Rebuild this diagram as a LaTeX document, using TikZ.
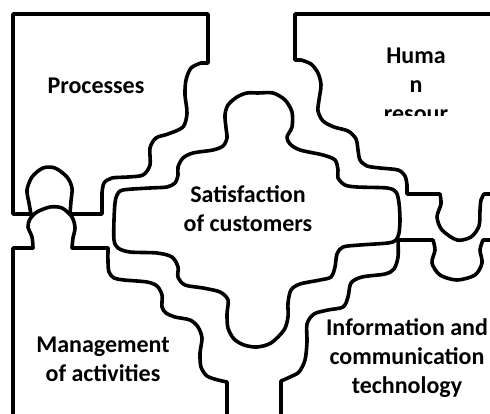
\documentclass[tikz,border=0pt]{standalone}
\usepackage{fontspec}
\setmainfont{Carlito}
\usepackage{tikz}

\begin{document}
\begin{tikzpicture}[x=1pt,y=-1pt,
  edge/.style={line width=3.6pt,line join=round,line cap=round},
  word/.style={font=\bfseries\fontsize{24}{29}\selectfont,align=center,anchor=base,inner sep=0pt}]
\useasboundingbox[fill=white] (0,0) rectangle (490,414);
\begin{scope}
\clip (0,0) rectangle (490,414);
\draw[edge] (13,14) -- (208,14) -- (208,63) -- (201,63) -- plot[smooth] coordinates {(201,63) (191,68) (186,80) (185,95) (187,113) (183,127) (168,134) (156,138) (150,148) (150,165) (143,175) (128,177) (112,178) (104,183) (102,193)} -- (102,214) -- (70,214) -- plot[smooth] coordinates {(70,214) (71,201) (72,188) (67,177) (55,168) (43,168) (32,177) (27,190) (29,203) (31,214)} -- (13,214) -- cycle;
\draw[edge] (495,14) -- (295,14) -- (295,60) -- (301,60) -- plot[smooth] coordinates {(301,60) (311,64) (318,73) (321,85) (319,100) (318,111) (323,121) (334,127) (348,131) (356,139) (358,150) (360,160) (367,166) (380,168) (398,170) (405,176) (407,185)} -- (407,194) -- (440,194) -- plot[smooth] coordinates {(440,194) (441,204) (437,217) (442,230) (457,240) (471,237) (479,226) (480,210) (481,200) (484,194)} -- (495,194);
\draw[edge] (13,420) -- (13,248) -- (33,248) -- plot[smooth] coordinates {(33,248) (32,237) (28,227) (30,219) (37,212) (50,207) (62,208) (72,217) (75,228) (73,238) (72,248)} -- (108,248) -- plot[smooth] coordinates {(108,248) (108,262) (109,272) (114,278) (124,280) (147,282) (157,286) (162,295) (162,307) (166,313) (175,317) (190,320) (198,327) (202,338) (200,353) (201,367) (207,376) (218,380) (227,382)} -- (227,420);
\draw[edge] (495,240) -- (483,240) -- plot[smooth] coordinates {(483,240) (480,250) (482,263) (475,275) (457,280) (440,275) (432,263) (435,250) (433,240)} -- (398,240) -- plot[smooth] coordinates {(398,240) (398,257) (394,269) (385,274) (362,277) (351,283) (348,297) (343,307) (328,310) (314,314) (307,324) (307,342) (305,360) (299,372) (290,377) (281,381)} -- (281,420);
\draw[edge] plot[smooth cycle] coordinates {(258,93) (273,93) (285,100) (292,112) (292,127) (287,137) (290,144) (300,150) (323,155) (335,160) (338,170) (338,178) (345,185) (357,187) (387,188) (396,192) (399,203) (400,220) (399,233) (396,240) (388,243) (360,245) (343,247) (337,254) (335,267) (331,277) (320,280) (300,284) (291,290) (288,303) (288,317) (284,330) (271,343) (257,347) (244,345) (234,339) (228,328) (227,314) (228,300) (220,292) (203,288) (185,285) (178,277) (178,267) (172,257) (157,253) (130,252) (118,248) (114,240) (114,220) (115,203) (117,195) (123,190) (150,188) (167,187) (175,183) (178,175) (178,167) (183,158) (193,153) (213,150) (223,146) (227,138) (226,128) (225,115) (228,105) (237,97) (247,93)};
\end{scope}
\node[word] (proc) at (96,94) {Processes};
\node[word] (sat) at (248,232) {Satisfaction\\of customers};
\node[word] (mgmt) at (103,381) {Management\\of activities};
\begin{scope}
\clip (340,20) rectangle (490,116);
\node[word] (hr) at (416,122) {Huma\\n\\resour};
\end{scope}
\begin{scope}
\clip (300,300) rectangle (490,399);
\node[word] (ict) at (407,393) {Information and\\communication\\technology};
\end{scope}
\end{tikzpicture}
\end{document}
